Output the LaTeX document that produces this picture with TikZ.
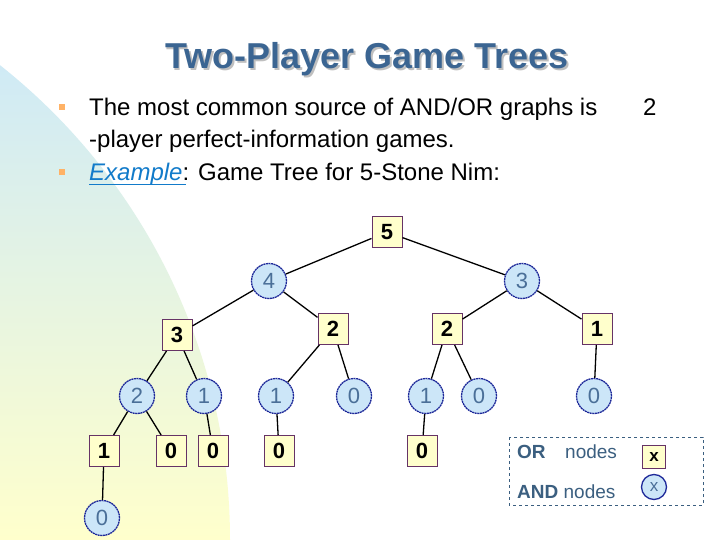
\documentclass[tikz,border=0pt]{standalone}
\usepackage{fontspec}
\setmainfont{Liberation Sans}
\begin{document}
\begin{tikzpicture}[x=1pt,y=-1pt,
  orn/.style={draw=orborder,fill=orfill,minimum width=30pt,minimum height=31pt,inner sep=0pt,font=\fontsize{22}{22}\selectfont\bfseries,line width=1pt},
  andn/.style={circle,draw=andborder,fill=andfill,minimum size=35pt,inner sep=0pt,font=\fontsize{22}{22}\selectfont,text=andtext,line width=1.3pt,dash pattern=on 2pt off 0.6pt},
  ed/.style={draw=black,line width=1.3pt}]
\definecolor{orfill}{HTML}{FFFFCC}
\definecolor{orborder}{HTML}{663366}
\definecolor{andfill}{HTML}{CCE6F8}
\definecolor{andborder}{HTML}{1F2A9A}
\definecolor{andtext}{HTML}{4A6F98}
\definecolor{ttl}{HTML}{3B6592}
\definecolor{lgd}{HTML}{3B5F80}
\definecolor{bgtop}{HTML}{CFEAF6}
\definecolor{bgbot}{HTML}{FFFFCC}
\useasboundingbox (0,0) rectangle (720,540);
\fill[white] (0,0) rectangle (720,540);
\begin{scope}
\clip (-375,540) circle (605);
\shade[top color=bgtop, bottom color=bgbot] (0,60) rectangle (240,540);
\end{scope}
% title
\node[font=\fontsize{36}{36}\selectfont\bfseries,text=ttl] (title) at (367,60) {\makebox[0pt][l]{\hspace{1.5pt}\raisebox{-1.5pt}{\color{gray!50}Two-Player Game Trees}}Two-Player Game Trees};
% bullets
\fill[orange!60] (59,104) rectangle (65,110);
\fill[orange!60] (59,169) rectangle (65,175);
\node[anchor=base west,font=\fontsize{24}{24}\selectfont,inner sep=0pt] (l1) at (89,116) {The most common source of AND/OR graphs is};
\node[anchor=base west,font=\fontsize{24}{24}\selectfont,inner sep=0pt] (two) at (643,116) {2};
\node[anchor=base west,font=\fontsize{24}{24}\selectfont,inner sep=0pt] (l2) at (89,148) {-player perfect-information games.};
\node[anchor=base west,font=\fontsize{24}{24}\selectfont,inner sep=0pt] (l3) at (89,181) {{\color{cyan!60!blue}\textit{Example}}: Game Tree for 5-Stone Nim:};
\draw[cyan!60!blue,line width=0.8pt] (l3.base west) ++(0,3) -- ++(97,0);
% tree
\node[orn] (r) at (387,232) {5};
\node[andn] (a4) at (269,281) {4};
\node[andn] (a3) at (522,281) {3};
\node[orn] (b3) at (177,335) {3};
\node[orn] (b2) at (333,329) {2};
\node[orn] (b2r) at (447,329) {2};
\node[orn] (b1) at (597,329) {1};
\node[andn] (c2) at (137,396) {2};
\node[andn] (c1) at (204,396) {1};
\node[andn] (c1b) at (276,396) {1};
\node[andn] (c0) at (354,396) {0};
\node[andn] (c1c) at (426,396) {1};
\node[andn] (c0b) at (479,396) {0};
\node[andn] (c0c) at (594,396) {0};
\node[orn] (d1) at (104,451) {1};
\node[orn] (d0) at (171,451) {0};
\node[orn] (d0b) at (213,451) {0};
\node[orn] (d0c) at (279,451) {0};
\node[orn] (d0d) at (422,451) {0};
\node[andn] (e0) at (102,518) {0};
\path[ed] (r) -- (a4) (r) -- (a3) (a4) -- (b3) (a4) -- (b2) (a3) -- (b2r) (a3) -- (b1)
 (b3) -- (c2) (b3) -- (c1) (b2) -- (c1b) (b2) -- (c0) (b2r) -- (c1c) (b2r) -- (c0b) (b1) -- (c0c)
 (c2) -- (d1) (c2) -- (d0) (c1) -- (d0b) (c1b) -- (d0c) (c1c) -- (d0d) (d1) -- (e0);
% legend
\draw[dashed,lgd,line width=0.9pt] (509,437) rectangle (703,505);
\node[anchor=base west,font=\fontsize{19}{19}\selectfont\bfseries,text=lgd,inner sep=0pt] (lor) at (517,458) {OR};
\node[anchor=base west,font=\fontsize{19}{19}\selectfont,text=lgd,inner sep=0pt] (lnd) at (565,458) {nodes};
\node[anchor=base west,font=\fontsize{19}{19}\selectfont,text=lgd,inner sep=0pt] (land) at (517,498) {\textbf{AND} nodes};
\node[orn,minimum width=23pt,minimum height=23pt,font=\fontsize{17}{17}\selectfont\bfseries] (lx) at (654,457) {x};
\node[andn,minimum size=25pt,font=\fontsize{17}{17}\selectfont,solid] (lc) at (654,487) {x};
\end{tikzpicture}
\end{document}
